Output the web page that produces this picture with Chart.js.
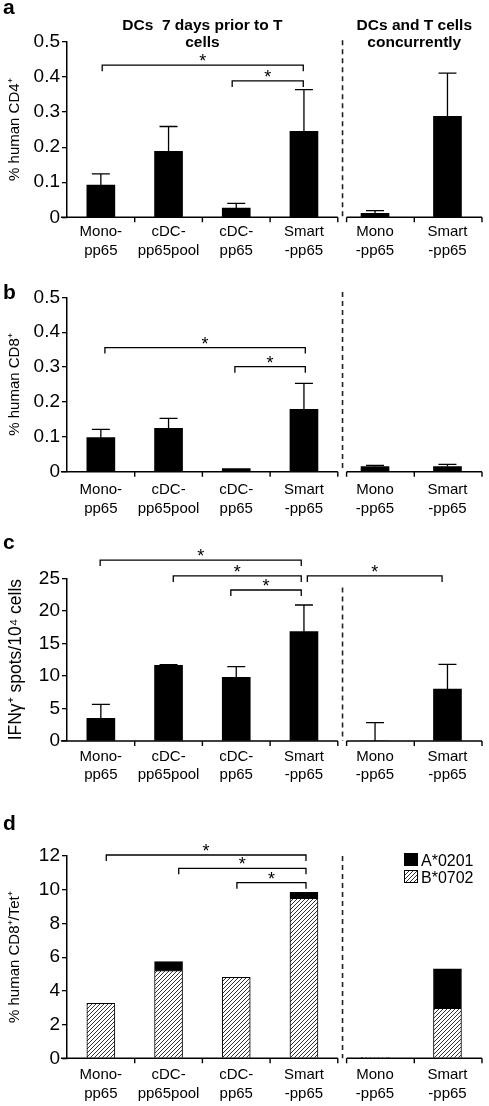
<!DOCTYPE html>
<html>
<head>
<meta charset="utf-8">
<script src="https://cdn.jsdelivr.net/npm/chart.js@4/dist/chart.umd.min.js"></script>
<style>
  body { margin: 0; background: #fff; }
  #wrap { position: relative; width: 489px; height: 1106px; }
  canvas { position: absolute; left: 0; }
</style>
</head>
<body>
<div id="wrap">
  <canvas id="ca" width="489" height="262" style="top:0px"></canvas>
  <canvas id="cb" width="489" height="264" style="top:262px"></canvas>
  <canvas id="cc" width="489" height="266" style="top:526px"></canvas>
  <canvas id="cd" width="489" height="326" style="top:780px"></canvas>
</div>
<script>
// groups along the x axis (4 "7 days prior" + 2 "concurrently")
const xLabels = [["Mono-", "pp65"], ["cDC-", "pp65pool"], ["cDC-", "pp65"], ["Smart", "-pp65"], ["Mono", "-pp65"], ["Smart", "-pp65"]];

// a: % human CD4+
const cd4Mean = [0.092, 0.188, 0.026, 0.245, 0.011, 0.288];
const cd4Sem = [0.032, 0.071, 0.014, 0.119, 0.008, 0.123];
// b: % human CD8+
const cd8Mean = [0.0975, 0.124, 0.009, 0.179, 0.015, 0.015];
const cd8Sem = [0.024, 0.029, 0, 0.074, 0.003, 0.006];
// c: IFNg+ spots / 10^4 cells
const ifnMean = [3.48, 11.63, 9.78, 16.8, 0, 7.99];
const ifnSem = [2.16, 0.1, 1.64, 4.1, 2.82, 3.79];
// d: % human CD8+/Tet+ (stacked)
const tetB0702 = [3.26, 5.2, 4.8, 9.49, 0.05, 2.97];
const tetA0201 = [0, 0.53, 0, 0.36, 0, 2.33];

// significance brackets: [from, to, level]
const sigCD4 = [[0.52, 3.49, 0.434], [2.44, 3.49, 0.389]];
const sigCD8 = [[0.56, 3.52, 0.356], [2.48, 3.52, 0.301]];
const sigIFN = [[0.49, 3.46, 27.8], [1.57, 3.46, 25.36], [2.42, 3.46, 23.2], [3.55, 5.54, 25.36]];
const sigTet = [[0.58, 3.53, 12.06], [1.65, 3.53, 11.27], [2.51, 3.53, 10.42]];

const FONT = "'Liberation Sans', Arial, sans-serif";
const X_MAX = 6.13;
const slotX = [0.5, 1.5, 2.5, 3.5, 4.55, 5.62];
const axisSegs = [[-0.09, 4, [1, 2, 3, 4]], [4.13, 6.13, [4.13, 5.13, 6.13]]];
const DASH_X = 4.07;

function hatch() {
  const c = document.createElement("canvas");
  c.width = 4; c.height = 4;
  const g = c.getContext("2d");
  g.fillStyle = "#fff"; g.fillRect(0, 0, 4, 4);
  g.strokeStyle = "#333"; g.lineWidth = 1;
  g.beginPath();
  g.moveTo(0, 4); g.lineTo(4, 0);
  g.moveTo(-1, 1); g.lineTo(1, -1);
  g.moveTo(3, 5); g.lineTo(5, 3);
  g.stroke();
  return g.createPattern(c, "repeat");
}
const HATCH = hatch();

const pts = vals => slotX.map((x, i) => ({ x: x, y: vals[i] }));

const deco = {
  id: "deco",
  afterDatasetsDraw(chart) {
    const { ctx, scales: { x, y } } = chart;
    ctx.save();
    ctx.strokeStyle = "#000";
    ctx.lineWidth = 1.3;
    chart.data.datasets.forEach(ds => {
      if (!ds.sem) return;
      ds.data.forEach((p, i) => {
        if (!ds.sem[i]) return;
        const cx = x.getPixelForValue(p.x);
        const y1 = y.getPixelForValue(p.y);
        const y2 = y.getPixelForValue(p.y + ds.sem[i]);
        ctx.beginPath();
        ctx.moveTo(cx, y1); ctx.lineTo(cx, y2);
        ctx.moveTo(cx - 9, y2); ctx.lineTo(cx + 9, y2);
        ctx.stroke();
      });
    });
    ctx.restore();
  },
  afterDraw(chart, args, o) {
    const { ctx, chartArea, scales: { x, y } } = chart;
    const px = v => x.getPixelForValue(v);
    const py = v => y.getPixelForValue(v);
    const y0 = py(0);
    ctx.save();
    // broken x axis
    ctx.strokeStyle = "#000";
    ctx.lineWidth = 1.4;
    axisSegs.forEach(([a, b, ticks]) => {
      ctx.beginPath();
      ctx.moveTo(px(a), y0); ctx.lineTo(px(b), y0);
      ticks.forEach(t => { ctx.moveTo(px(t), y0); ctx.lineTo(px(t), y0 + 5); });
      ctx.stroke();
    });
    // dashed divider
    ctx.setLineDash([5, 4]);
    ctx.strokeStyle = "#222";
    ctx.lineWidth = 1.6;
    ctx.beginPath();
    ctx.moveTo(px(DASH_X), py(o.dashTop)); ctx.lineTo(px(DASH_X), y0);
    ctx.stroke();
    ctx.setLineDash([]);
    // significance brackets
    ctx.strokeStyle = "#000";
    ctx.fillStyle = "#000";
    ctx.lineWidth = 1.3;
    ctx.font = "18px " + FONT;
    ctx.textAlign = "center";
    ctx.textBaseline = "alphabetic";
    (o.sig || []).forEach(([a, b, lv]) => {
      const yy = py(lv);
      ctx.beginPath();
      ctx.moveTo(px(a), yy + 6); ctx.lineTo(px(a), yy); ctx.lineTo(px(b), yy); ctx.lineTo(px(b), yy + 6);
      ctx.stroke();
      ctx.fillText("*", (px(a) + px(b)) / 2, yy + 2);
    });
    // group titles
    ctx.font = "bold 15.5px " + FONT;
    (o.titles || []).forEach(t => {
      t.lines.forEach((l, i) => ctx.fillText(l, px(t.x), chartArea.top - 12 + i * 17));
    });
    // panel letter
    ctx.textAlign = "left";
    ctx.font = "bold 21px " + FONT;
    ctx.fillText(o.letter, 3, o.letterY);
    // legend
    if (o.legend) {
      ctx.font = "16px " + FONT;
      o.legend.forEach((it, i) => {
        const lx = chartArea.right - 78, ly = chartArea.top - 3 + i * 17;
        ctx.fillStyle = it.fill;
        ctx.fillRect(lx, ly, 14, 13);
        ctx.strokeStyle = "#000"; ctx.lineWidth = 1;
        ctx.strokeRect(lx + 0.5, ly + 0.5, 13, 12);
        ctx.fillStyle = "#000";
        ctx.fillText(it.label, lx + 17, ly + 13);
      });
    }
    ctx.restore();
  }
};

function panel(id, cfg) {
  return new Chart(document.getElementById(id), {
    type: "bar",
    data: { datasets: cfg.datasets },
    options: {
      responsive: false,
      animation: false,
      layout: { padding: { top: cfg.top, right: 7, left: 0, bottom: 0 } },
      plugins: { legend: { display: false }, tooltip: { enabled: false }, deco: cfg.deco },
      scales: {
        x: {
          type: "linear", min: 0, max: X_MAX, offset: false, stacked: !!cfg.stacked,
          grid: { display: false, drawTicks: false, offset: false },
          border: { display: false },
          afterBuildTicks: s => { s.ticks = slotX.map(v => ({ value: v })); },
          afterFit: s => { s.height = cfg.xh; },
          ticks: {
            autoSkip: false, maxRotation: 0, padding: cfg.lp, color: "#000",
            font: { family: FONT, size: 15, lineHeight: 1.25 },
            callback: (v, i) => xLabels[i]
          }
        },
        y: {
          min: 0, max: cfg.max, stacked: !!cfg.stacked,
          afterFit: s => { s.width = 67; },
          ticks: { stepSize: cfg.step, padding: 2, color: "#000", font: { family: FONT, size: 19 } },
          grid: { drawOnChartArea: false, drawTicks: true, tickLength: 5, color: "#000", lineWidth: 1.3 },
          border: { display: true, color: "#000", width: 1.5 },
          title: { display: true, text: cfg.ytitle, color: "#000", font: { family: FONT, size: cfg.ytSize }, padding: { top: 6, bottom: 0 } }
        }
      }
    },
    plugins: [deco]
  });
}

panel("ca", {
  top: 42, xh: 44.7, lp: 5, max: 0.5, step: 0.1, ytitle: "% human CD4⁺", ytSize: 15,
  datasets: [{ data: pts(cd4Mean), sem: cd4Sem, backgroundColor: "#000", barThickness: 28 }],
  deco: {
    letter: "a", letterY: 14, dashTop: 0.505, sig: sigCD4,
    titles: [{ x: 2.0, lines: ["DCs  7 days prior to T", "cells"] }, { x: 5.13, lines: ["DCs and T cells", "concurrently"] }]
  }
});

panel("cb", {
  top: 35.3, xh: 54.3, lp: 9, max: 0.5, step: 0.1, ytitle: "% human CD8⁺", ytSize: 15,
  datasets: [{ data: pts(cd8Mean), sem: cd8Sem, backgroundColor: "#000", barThickness: 28 }],
  deco: { letter: "b", letterY: 36.5, dashTop: 0.515, sig: sigCD8 }
});

panel("cc", {
  top: 52.3, xh: 51, lp: 6, max: 25, step: 5, ytitle: "IFNγ⁺ spots/10⁴ cells", ytSize: 17.5,
  datasets: [{ data: pts(ifnMean), sem: ifnSem, backgroundColor: "#000", barThickness: 28 }],
  deco: { letter: "c", letterY: 23, dashTop: 23.6, sig: sigIFN }
});

panel("cd", {
  top: 76, xh: 47.7, lp: 7, max: 12, step: 2, ytitle: "% human CD8⁺/Tet⁺", ytSize: 15, stacked: true,
  datasets: [
    { data: pts(tetB0702), backgroundColor: HATCH, borderColor: "#000", borderWidth: 1, barThickness: 28 },
    { data: pts(tetA0201), backgroundColor: "#000", borderColor: "#000", borderWidth: 1, barThickness: 28 }
  ],
  deco: {
    letter: "d", letterY: 50, dashTop: 12, sig: sigTet,
    legend: [{ label: "A*0201", fill: "#000" }, { label: "B*0702", fill: HATCH }]
  }
});
</script>
</body>
</html>
